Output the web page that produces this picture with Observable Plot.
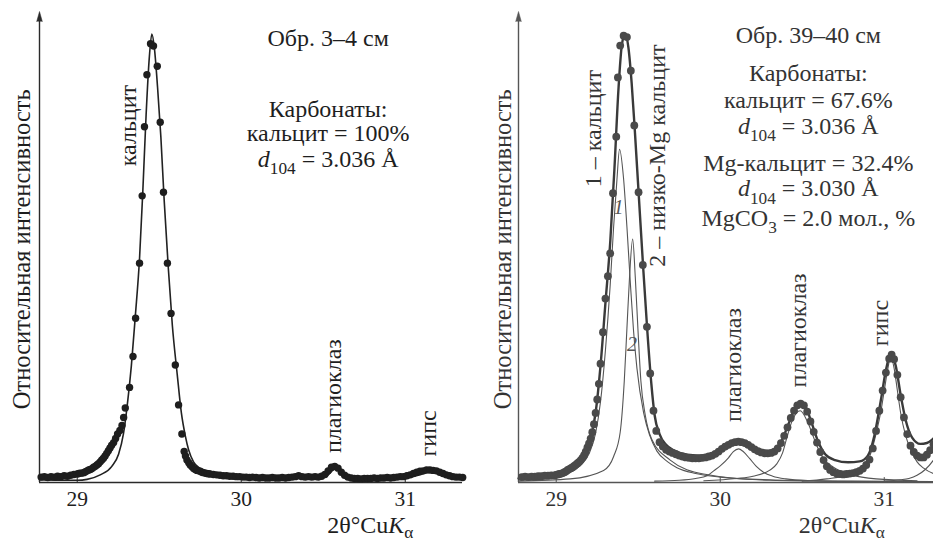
<!DOCTYPE html>
<html><head><meta charset="utf-8">
<script src="https://cdn.jsdelivr.net/npm/d3@7"></script>
<script src="https://cdn.jsdelivr.net/npm/@observablehq/plot@0.6"></script>
<style>
html,body{margin:0;padding:0;background:#fff;}
#wrap{position:relative;width:933px;height:542px;overflow:hidden;background:#fff;}
#wrap > svg{position:absolute;top:0;}
#wrap text, #wrap tspan{font-family:"Liberation Serif","Times New Roman",serif;}
</style></head><body><div id="wrap"></div>
<script>
// ---------- data ----------
const xTicks = [29, 30, 31];
const yLabel = "Относительная интенсивность";
const xLabel = "2θ°Cu{i|K}{sub|α}";

const leftNotes = ["Обр. 3–4 см", "Карбонаты:", "кальцит = 100%", "{i|d}{sub|104} = 3.036 Å"];
const rightNotes = ["Обр. 39–40 см", "Карбонаты:", "кальцит = 67.6%", "{i|d}{sub|104} = 3.036 Å",
  "Mg-кальцит = 32.4%", "{i|d}{sub|104} = 3.030 Å", "MgCO{sub|3} = 2.0 мол., %"];

const leftPeakNames = ["кальцит", "плагиоклаз", "гипс"];
const leftPeakX = [29.313, 30.561, 31.14];
const rightPeakNames = ["1 – кальцит", "2 – низко-Mg кальцит", "плагиоклаз", "плагиоклаз", "гипс"];
const rightPeakX = [29.227, 29.614, 30.081, 30.477, 30.976];
const compNumbers = ["1", "2"];
const compNumberX = [29.38, 29.462];

// left sample (3–4 cm): measured points [2θ, intensity]
const leftMeasured = [
 [28.78,1.2],[28.80,1.3],[28.82,1.1],[28.84,1.3],[28.86,1.2],[28.88,1.4],[28.90,1.3],[28.92,1.5],[28.94,1.4],[28.96,1.6],
 [28.98,1.8],[29.00,1.9],[29.01,2.0],[29.02,2.1],[29.03,2.1],[29.04,2.2],[29.05,2.4],[29.06,2.6],[29.07,2.8],[29.08,2.9],
 [29.09,3.1],[29.10,3.4],[29.11,3.6],[29.12,3.9],[29.13,4.2],[29.14,4.6],[29.15,5.0],[29.16,5.4],[29.17,5.9],[29.18,6.5],
 [29.19,7.1],[29.20,7.7],[29.21,8.3],[29.222,8.9],[29.234,9.8],[29.246,10.8],[29.26,11.6],[29.273,12.7],[29.283,14.5],
 [29.293,16.6],[29.319,21.2],[29.34,28.1],[29.356,36.6],
 [29.38,48.9],[29.396,63.9],[29.41,79.3],[29.425,90.9],[29.447,97.8],[29.465,97.3],[29.488,92.8],[29.506,80.3],[29.526,64.7],
 [29.55,48.9],[29.572,37.7],[29.598,26.2],[29.618,17.3],[29.638,10.8],[29.652,6.9],[29.66,5.9],[29.669,5.0],[29.68,4.4],
 [29.689,3.9],[29.70,3.5],[29.71,3.1],[29.72,2.9],[29.73,2.7],[29.74,2.6],[29.75,2.5],[29.76,2.3],[29.77,2.2],[29.78,2.1],
 [29.79,2.0],[29.80,1.95],[29.81,1.9],
 [29.83,1.8],[29.85,1.7],[29.87,1.6],[29.89,1.5],[29.91,1.5],[29.93,1.4],[29.95,1.4],[29.97,1.3],[29.99,1.3],[30.01,1.2],
 [30.03,1.2],[30.05,1.1],[30.07,1.2],[30.09,1.1],[30.11,1.0],[30.13,1.1],[30.15,1.0],[30.17,1.0],[30.19,1.1],[30.21,1.0],
 [30.23,1.0],[30.25,1.1],[30.27,1.0],[30.29,1.1],[30.31,1.2],[30.33,1.3],[30.35,1.5],[30.37,1.3],[30.39,1.2],[30.41,1.3],
 [30.43,1.2],[30.45,1.3],[30.47,1.2],[30.49,1.4],[30.51,1.8],[30.53,2.6],[30.55,3.4],[30.57,3.6],[30.59,3.2],[30.61,2.3],
 [30.63,1.6],[30.65,1.2],[30.67,1.0],[30.69,0.9],[30.71,0.9],[30.73,0.8],[30.75,0.9],[30.77,0.9],[30.79,0.9],[30.81,1.0],
 [30.83,0.9],[30.85,1.0],[30.87,1.0],[30.89,1.1],[30.91,1.0],[30.93,1.1],[30.95,1.2],[30.97,1.3],[30.99,1.3],[31.01,1.5],
 [31.03,1.7],[31.05,2.0],[31.07,2.3],[31.09,2.5],[31.11,2.6],[31.13,2.8],[31.15,2.8],[31.17,2.7],[31.19,2.6],[31.21,2.3],
 [31.23,2.0],[31.25,1.7],[31.27,1.5],[31.29,1.3],[31.31,1.2],[31.33,1.2],[31.35,1.1]
];
// left sample: fitted profile
const leftFit = [
 [28.77,0.6],[28.9,0.5],[29.0,0.5],[29.06,0.7],[29.14,1.7],[29.211,3.6],[29.252,6.3],[29.282,10.9],[29.303,16.6],
 [29.33,26],[29.354,37],[29.38,50],[29.40,65],[29.42,82],[29.44,95],[29.455,100],[29.47,97],[29.49,88],[29.51,77],
 [29.53,63],[29.555,48],[29.58,35],[29.61,24],[29.635,15.5],[29.659,10.4],[29.679,7.3],[29.709,4.6],[29.75,3.1],
 [29.831,1.9],[29.953,1.3],[30.1,1.1],[30.3,1.0],[30.45,1.0],[30.52,1.4],[30.56,2.8],[30.58,3.0],[30.62,1.6],
 [30.7,1.0],[31.0,1.1],[31.08,1.6],[31.15,2.4],[31.2,2.2],[31.28,1.4],[31.349,1.2]
];

// right sample (39–40 cm): measured points
const rightMeasured = [
 [28.79,1.2],[28.81,1.3],[28.83,1.2],[28.85,1.3],[28.87,1.3],[28.89,1.4],[28.91,1.4],[28.93,1.5],[28.95,1.5],[28.97,1.6],
 [28.99,1.6],[29.00,1.7],[29.01,1.8],[29.02,1.9],[29.03,2.0],[29.04,2.1],[29.05,2.3],[29.06,2.5],[29.07,2.8],[29.08,3.0],
 [29.09,3.2],[29.10,3.4],[29.11,3.7],[29.12,4.0],[29.13,4.3],[29.14,4.6],[29.15,5.0],[29.16,5.5],[29.17,6.1],[29.18,6.9],
 [29.19,7.8],[29.20,8.7],[29.21,9.8],[29.22,11.2],[29.23,13.0],[29.24,15.5],[29.25,18.5],[29.26,22.0],[29.27,26.5],
 [29.285,33.5],[29.30,41.0],[29.315,46.0],[29.329,51.1],
 [29.346,64.5],[29.366,77.1],[29.376,90.3],[29.39,97.4],[29.411,99.6],[29.431,99.3],[29.455,91.8],[29.476,79.6],
 [29.502,64.7],[29.528,48.5],[29.553,34.7],[29.573,24.3],[29.593,16.0],[29.61,11.5],[29.63,9.0],[29.65,8.0],[29.67,7.3],
 [29.69,6.9],[29.71,6.6],[29.73,6.3],[29.75,6.0],[29.77,5.8],[29.79,5.6],[29.81,5.5],[29.83,5.4],[29.85,5.4],[29.87,5.4],
 [29.89,5.5],[29.91,5.6],[29.93,5.8],[29.95,6.0],[29.97,6.4],[29.99,6.9],[30.01,7.5],[30.03,8.0],[30.05,8.4],[30.07,8.8],
 [30.09,9.0],[30.11,9.1],[30.13,9.0],[30.15,8.8],[30.17,8.4],[30.19,7.9],[30.21,7.4],[30.23,7.0],[30.25,6.7],[30.27,6.5],
 [30.29,6.5],[30.31,6.6],[30.33,6.9],[30.35,7.6],[30.37,8.8],[30.39,10.4],[30.41,12.3],[30.43,14.4],[30.45,16.0],[30.47,17.2],
 [30.49,17.6],[30.51,17.2],[30.53,15.8],[30.55,13.6],[30.57,11.3],[30.59,8.9],[30.61,6.8],[30.63,5.0],[30.65,3.6],[30.67,2.8],
 [30.69,2.3],[30.71,2.0],[30.73,1.9],[30.75,1.8],[30.77,1.9],[30.79,2.0],[30.81,2.1],[30.83,2.3],[30.85,2.6],[30.87,3.1],
 [30.89,3.9],[30.91,5.1],[30.93,7.6],[30.95,11.5],[30.97,16.0],[30.99,20.5],[31.01,24.5],[31.03,27.6],[31.045,28.5],
 [31.06,27.5],[31.08,24.0],[31.10,19.0],[31.12,14.5],[31.14,10.8],[31.16,8.2],[31.18,6.8],[31.20,6.0],[31.22,5.6],
 [31.24,5.6],[31.26,6.2],[31.28,7.2],[31.30,8.5]
];
// right sample: total fitted profile
const rightFit = [
 [28.77,0.9],[28.9,1.2],[29.0,1.7],[29.1,3.3],[29.15,5.0],[29.2,8.6],[29.24,15.5],[29.27,26],[29.3,40],[29.33,54],
 [29.355,70],[29.38,88],[29.40,97.5],[29.42,100],[29.44,97],[29.46,89],[29.48,78],[29.50,66],[29.53,48],[29.555,34],
 [29.58,22],[29.60,15],[29.63,10.8],[29.67,8.4],[29.72,7.1],[29.8,6.2],[29.9,6.0],[29.98,6.7],[30.05,8.3],[30.11,9.3],
 [30.17,8.6],[30.24,7.3],[30.3,7.0],[30.36,8.4],[30.42,13.4],[30.46,16.9],[30.49,17.9],[30.52,16.9],[30.56,13.0],
 [30.6,8.8],[30.64,6.3],[30.7,5.0],[30.78,4.5],[30.85,4.7],[30.9,6.0],[30.94,10.5],[30.98,18.5],[31.01,25],[31.04,28.7],
 [31.07,26],[31.1,19.5],[31.13,14],[31.17,10],[31.22,8.6],[31.26,8.8],[31.3,9.8],[31.349,11.5]
];
// right sample: fitted components
const compCalcite = [
 [28.77,0.6],[28.9,0.9],[29.0,1.3],[29.1,2.6],[29.15,3.9],[29.2,6.4],[29.24,11],[29.27,18],[29.3,29.5],[29.329,44],
 [29.35,57],[29.37,67.4],[29.386,74.3],[29.41,68],[29.431,57],[29.451,45],[29.471,34],[29.492,25.5],[29.533,15.5],
 [29.57,10.5],[29.614,7.0],[29.68,4.6],[29.736,3.3],[29.85,2.0],[30.0,1.2],[30.3,0.6],[30.7,0.35],[31.349,0.2]
];
const compMgCalcite = [
 [28.77,0.3],[29.085,0.8],[29.289,2.7],[29.35,5.8],[29.39,11.2],[29.415,22.7],[29.431,34.3],[29.447,45.8],[29.466,54.3],
 [29.482,45.8],[29.498,34.3],[29.516,22.7],[29.543,15.0],[29.583,9.6],[29.695,5.0],[29.898,1.9],[30.305,0.5],[30.8,0.25],[31.349,0.15]
];
const compPlag1 = [
 [29.6,0.3],[29.75,0.5],[29.85,0.9],[29.92,1.5],[29.96,2.6],[30.0,3.7],[30.05,5.5],[30.08,6.9],[30.112,7.5],[30.14,6.9],
 [30.18,5.3],[30.22,3.6],[30.264,2.3],[30.32,1.4],[30.4,0.8],[30.55,0.4],[30.8,0.2]
];
const compPlag2 = [
 [29.9,0.4],[30.1,0.9],[30.2,1.4],[30.3,2.7],[30.346,4.2],[30.38,6.6],[30.407,10.1],[30.44,13.9],[30.488,16.0],[30.53,13.7],
 [30.569,10.1],[30.6,7.3],[30.63,5.3],[30.69,3.4],[30.8,1.7],[30.95,0.8],[31.2,0.4]
];
const compGypsum = [
 [30.5,0.3],[30.65,0.8],[30.793,1.9],[30.894,4.5],[30.955,11.6],[30.98,16],[31.0,20.5],[31.02,25],[31.04,28.1],[31.06,25.5],
 [31.08,20.5],[31.1,15.5],[31.13,10.5],[31.16,7.4],[31.2,4.6],[31.24,3.2],[31.3,2.0],[31.349,1.6]
];
const compNext = [[31.0,0.3],[31.1,0.6],[31.15,0.9],[31.2,1.6],[31.25,2.9],[31.3,5.0],[31.349,8.0]];

// ---------- helpers ----------
const X = d => d[0], Y = d => d[1];
const SERIF = "Liberation Serif";
const XMIN = 28.77;

function richify(svg, subShift = 0.3) {
  const NS = "http://www.w3.org/2000/svg";
  for (const t of svg.querySelectorAll("text")) {
    const s = t.textContent;
    if (!s.includes("{")) continue;
    const holder = t.closest("[font-size]");
    const fs = holder ? parseFloat(holder.getAttribute("font-size")) : 24;
    t.textContent = "";
    const re = /\{(i|sub)\|([^}]*)\}|([^{]+)/g;
    let m, shifted = 0;
    while ((m = re.exec(s))) {
      const ts = document.createElementNS(NS, "tspan");
      if (m[3] !== undefined || m[1] === "i") {
        ts.textContent = m[3] !== undefined ? m[3] : m[2];
        if (m[1] === "i") ts.setAttribute("font-style", "italic");
        if (shifted) { ts.setAttribute("dy", -shifted); shifted = 0; }
      } else {
        ts.textContent = m[2];
        const d = fs * (s.startsWith("2θ") ? 0.18 : subShift);
        ts.setAttribute("dy", d);
        ts.setAttribute("font-size", fs * 0.72);
        shifted = d;
      }
      t.appendChild(ts);
    }
  }
  return svg;
}

function frame(axisColor, textColor) {
  return [
    Plot.ruleY([0], {stroke: axisColor, strokeWidth: 1.4}),
    Plot.ruleX([XMIN], {y1: 0, y2: 103, stroke: axisColor, strokeWidth: 1.4}),
    Plot.vector([XMIN], {x: d => d, y: 105, anchor: "end", length: 10, shape: "spike", r: 2.8, fill: axisColor, stroke: axisColor, strokeWidth: 0.5}),
    Plot.ruleX(xTicks, {y1: 0, y2: 1.1, stroke: axisColor, strokeWidth: 1}),
    Plot.axisX(xTicks, {tickSize: 0, tickPadding: 8, fontSize: 21.5, fill: textColor, fontFamily: SERIF, tickFormat: d => String(d)}),
  ];
}

const common = {
  width: 470, height: 542,
  marginLeft: 39, marginRight: 8, marginTop: 11, marginBottom: 60,
  x: {domain: [XMIN, 31.349]},
  y: {domain: [0, 105], axis: null},
  style: "font-family: 'Liberation Serif', serif; background: transparent; overflow: visible;"
};
const T = {fontFamily: SERIF};

// ---------- left panel ----------
const leftNoteY = [99.0, 83.1, 77.8, 72.0];
const leftPeakBase = [70.5, 6.55, 5.8];
const L = "#1e1e1e";
const left = Plot.plot({
  ...common,
  marks: [
    ...frame("#2a2a2a", L),
    Plot.line(leftFit, {x: X, y: Y, curve: "monotone-x", stroke: "#222", strokeWidth: 1.6}),
    Plot.dot(leftMeasured, {x: X, y: Y, r: 3.7, fill: "#1e1e1e", stroke: "none"}),
    Plot.text(leftNotes, {...T, x: 30.53, y: (d, i) => leftNoteY[i], text: d => d, fontSize: 24, fill: L, textAnchor: "middle", lineAnchor: "middle"}),
    Plot.text(leftPeakNames, {...T, x: (d, i) => leftPeakX[i], y: (d, i) => leftPeakBase[i], text: d => d, rotate: -90, textAnchor: "start", lineAnchor: "middle", fontSize: 24, fill: L}),
    Plot.text([yLabel], {...T, x: 28.665, y: 52.0, text: d => d, rotate: -90, textAnchor: "middle", lineAnchor: "middle", fontSize: 24.5, fill: L}),
    Plot.text([xLabel], {...T, x: 30.787, y: -9.6, text: d => d, fontSize: 24, fill: L, textAnchor: "middle", lineAnchor: "middle"})
  ]
});

// ---------- right panel ----------
const rightNoteY = [99.8, 91.3, 85.1, 79.4, 71.2, 65.5, 58.9];
const rightPeakBase = [65.8, 48.1, 13.5, 21.2, 30.4];
const compNumberY = [61.2, 30.8];
const R = "#333";
const C = "#555";
const right = Plot.plot({
  ...common,
  marks: [
    ...frame("#555", R),
    ...[compCalcite, compMgCalcite, compPlag1, compPlag2, compGypsum, compNext].map(c =>
      Plot.line(c, {x: X, y: Y, curve: "monotone-x", stroke: C, strokeWidth: 1.1})),
    Plot.line(rightFit, {x: X, y: Y, curve: "monotone-x", stroke: "#3a3a3a", strokeWidth: 2.4}),
    Plot.dot(rightMeasured, {x: X, y: Y, r: 3.9, fill: "#4a4a4a", stroke: "none"}),
    Plot.text(rightNotes, {...T, x: 30.537, y: (d, i) => rightNoteY[i], text: d => d, fontSize: 24, fill: R, textAnchor: "middle", lineAnchor: "middle"}),
    Plot.text(rightPeakNames, {...T, x: (d, i) => rightPeakX[i], y: (d, i) => rightPeakBase[i], text: d => d, rotate: -90, textAnchor: "start", lineAnchor: "middle", fontSize: 24, fill: R}),
    Plot.text(compNumbers, {...T, x: (d, i) => compNumberX[i], y: (d, i) => compNumberY[i], text: d => d, fontSize: 20, fontStyle: "italic", fill: C, textAnchor: "middle", lineAnchor: "middle"}),
    Plot.text([yLabel], {...T, x: 28.679, y: 52.0, text: d => d, rotate: -90, textAnchor: "middle", lineAnchor: "middle", fontSize: 24.5, fill: R}),
    Plot.text([xLabel], {...T, x: 30.741, y: -9.6, text: d => d, fontSize: 24, fill: R, textAnchor: "middle", lineAnchor: "middle"})
  ]
});

const wrap = document.getElementById("wrap");
richify(left); richify(right);
left.style.left = "0px";
right.style.left = "479px";
wrap.appendChild(left);
wrap.appendChild(right);
</script>
</body></html>
